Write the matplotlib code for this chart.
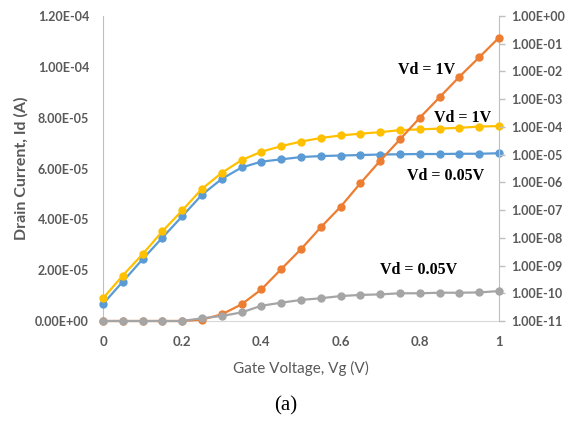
#!/usr/bin/env python3
"""Drain current vs gate voltage, linear (left) and log (right) axes."""

import matplotlib
matplotlib.use('Agg')
import matplotlib.pyplot as plt
from matplotlib.ticker import FuncFormatter, FixedLocator, NullLocator
import numpy as np

plt.rcParams['font.family'] = ['Lato', 'DejaVu Sans']

# data
vg = [0.00, 0.05, 0.10, 0.15, 0.20, 0.25, 0.30, 0.35, 0.40, 0.45, 0.50,
      0.55, 0.60, 0.65, 0.70, 0.75, 0.80, 0.85, 0.90, 0.95, 1.00]

# linear, left axis (A)
id_lin_005 = [6.7e-6, 1.55e-5, 2.43e-5, 3.28e-5, 4.12e-5, 4.97e-5, 5.59e-5, 6.04e-5, 6.27e-5, 6.36e-5, 6.45e-5,
              6.49e-5, 6.51e-5, 6.53e-5, 6.55e-5, 6.56e-5, 6.57e-5, 6.57e-5, 6.58e-5, 6.58e-5, 6.60e-5]
id_lin_1 = [8.9e-6, 1.79e-5, 2.63e-5, 3.53e-5, 4.35e-5, 5.20e-5, 5.83e-5, 6.33e-5, 6.66e-5, 6.88e-5, 7.06e-5,
            7.20e-5, 7.30e-5, 7.37e-5, 7.43e-5, 7.51e-5, 7.54e-5, 7.57e-5, 7.60e-5, 7.65e-5, 7.67e-5]

# log, right axis (log10 of A)
log_id_1 = [-11.0, -11.0, -11.0, -11.0, -11.0, -10.95, -10.76, -10.40, -9.86, -9.13, -8.41,
            -7.62, -6.88, -6.03, -5.22, -4.45, -3.67, -2.93, -2.19, -1.49, -0.78]
log_id_005 = [-11.0, -11.0, -11.0, -11.0, -11.0, -10.90, -10.82, -10.69, -10.45, -10.34, -10.24,
              -10.18, -10.10, -10.06, -10.04, -10.00, -10.00, -9.98, -9.98, -9.97, -9.92]

BLUE, ORANGE, GRAY, YELLOW = '#5B9BD5', '#ED7D31', '#A5A5A5', '#FFC000'
TXT = '#595959'
AXC = '#BFBFBF'

fig = plt.figure(figsize=(5.69, 4.23), dpi=100)
fig.patch.set_facecolor('white')
ax1 = fig.add_axes([103 / 569, 1 - 321 / 423, (499 - 103) / 569, (321 - 16) / 423])
ax2 = ax1.twinx()

mk = dict(marker='o', markersize=5, linewidth=1.6, clip_on=False)
ax1.plot(vg, id_lin_005, color=BLUE, zorder=3, **mk)
ax1.plot(vg, id_lin_1, color=YELLOW, zorder=4, **mk)
ax2.plot(vg, 10 ** np.array(log_id_1), color=ORANGE, zorder=3, **mk)
ax2.plot(vg, 10 ** np.array(log_id_005), color=GRAY, zorder=4, **mk)

ax1.set_xlim(0, 1)
ax1.set_ylim(0, 1.2e-4)
ax1.set_xticks(np.arange(0, 1.01, 0.2))
ax1.set_yticks(np.arange(0, 1.21e-4, 2e-5))
ax1.xaxis.set_major_formatter(FuncFormatter(lambda v, p: f'{v:g}'))
ax1.yaxis.set_major_formatter(FuncFormatter(lambda v, p: f'{v:.2E}'))

ax2.set_yscale('log')
ax2.set_ylim(1e-11, 1e0)
ax2.yaxis.set_major_locator(FixedLocator([10.0 ** k for k in range(-11, 1)]))
ax2.yaxis.set_minor_locator(NullLocator())
ax2.yaxis.set_major_formatter(FuncFormatter(lambda v, p: f'{v:.2E}'))

for ax in (ax1, ax2):
    for s in ax.spines.values():
        s.set_visible(False)
ax1.spines['left'].set_visible(True)
ax1.spines['left'].set_color(AXC)
ax1.spines['bottom'].set_visible(True)
ax1.spines['bottom'].set_color('#D9D9D9')
ax2.spines['right'].set_visible(True)
ax2.spines['right'].set_color(AXC)

ax1.tick_params(axis='y', length=0, pad=10, labelsize=9, labelcolor=TXT)
ax1.tick_params(axis='x', length=0, pad=11, labelsize=9.5, labelcolor=TXT)
ax2.tick_params(axis='y', length=4, width=1, color=AXC, pad=5, labelsize=9, labelcolor=TXT)
for lab in ax1.get_xticklabels() + ax1.get_yticklabels() + ax2.get_yticklabels():
    lab.set_fontweight('bold')

ax1.set_ylabel('Drain Current, Id (A)', color=TXT, fontsize=11.5, fontweight='bold', labelpad=5)
ax1.set_xlabel('Gate Voltage, Vg (V)', color=TXT, fontsize=11, labelpad=9)

serif = dict(family=['Liberation Serif', 'DejaVu Serif'], fontweight='bold', fontsize=11.5,
             ha='center', va='center', color='black')
fig.text(427 / 569, 1 - 70 / 423, 'Vd = 1V', **serif)
fig.text(463 / 569, 1 - 118 / 423, 'Vd = 1V', **serif)
fig.text(446 / 569, 1 - 176 / 423, 'Vd = 0.05V', **serif)
fig.text(419 / 569, 1 - 270 / 423, 'Vd = 0.05V', **serif)
fig.text(286 / 569, 1 - 406 / 423, '(a)', family=['Liberation Serif', 'DejaVu Serif'],
         fontsize=15, ha='center', va='center', color='black')

plt.savefig('out.png', dpi=100, facecolor='white')
plt.close()
print("Saved: out.png")
